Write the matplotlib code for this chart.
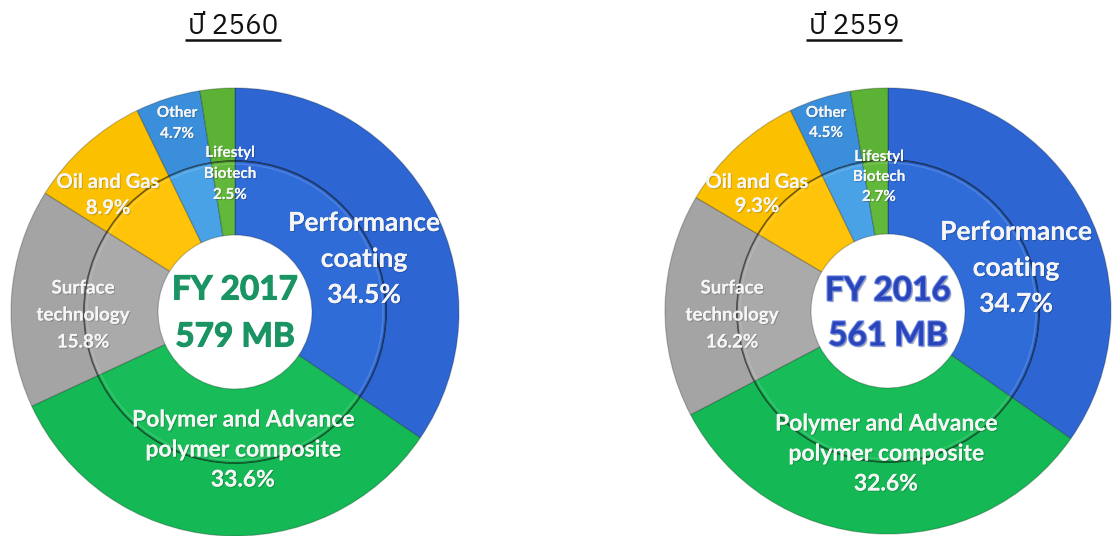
import matplotlib
matplotlib.use("Agg")
import matplotlib.pyplot as plt
from matplotlib import font_manager as fm
from matplotlib.ft2font import FT2Font
from matplotlib.patches import Circle
import matplotlib.patheffects as pe

# ---------------- data ----------------
categories = ["Performance\ncoating",
              "Polymer and Advance\npolymer composite",
              "Surface\ntechnology",
              "Oil and Gas",
              "Other",
              "Lifestyl\nBiotech"]
share_2560 = [34.5, 33.6, 15.8, 8.9, 4.7, 2.5]
share_2559 = [34.7, 32.6, 16.2, 9.3, 4.5, 2.7]
titles = ["ปี 2560", "ปี 2559"]
center_lines = [["FY 2017", "579 MB"], ["FY 2016", "561 MB"]]

# ---------------- styles / layout ----------------
outer_colors = ["#2D66D3", "#14B854", "#A4A4A4", "#FBC100", "#3B8FDA", "#5CB234"]
inner_colors = ["#2F6CD8", "#18BC58", "#AAAAAA", "#FFC40A", "#4AA2E6", "#62B83A"]
center_colors = ["#1A9462", "#2A45B8"]

W, H = 1117, 536
pies = [dict(cx=235, cy=312, R=224), dict(cx=888, cy=311, R=223)]
r_mid, r_hole = 151, 77
title_pos = [(233, 27), (854, 27)]
center_text_y = [(290, 337), (291, 336)]

# label layout: (x, first line y, line step, fontsize), pixel coords from top
label_layout = [
    [(364, 223, 36, 19), (243, 420, 30, 16.5), (83, 288, 27, 13.5),
     (108, 182, 26, 14.5), (177, 113, 21, 11), (230, 153, 21, 11)],
    [(1016, 232, 36, 19), (886, 424, 30, 16.5), (732, 288, 27, 13.5),
     (757, 182, 24, 14.5), (826, 113, 20, 11), (879, 157, 20, 11)],
]

# ---------------- fonts ----------------
def has_glyphs(path, s):
    try:
        f = FT2Font(path)
        return all(f.get_char_index(ord(c)) != 0 for c in s)
    except Exception:
        return False

thai_candidates = []
for fe in fm.fontManager.ttflist:
    if has_glyphs(fe.fname, "ปี"):
        thai_candidates.append(fe.name)
thai_family = None
for nm in thai_candidates:
    if "Sans" in nm or "Loop" in nm:
        thai_family = nm
        break
if thai_family is None and thai_candidates:
    thai_family = thai_candidates[0]
title_family = ([thai_family] if thai_family else []) + ["DejaVu Sans"]

installed = {f.name for f in fm.fontManager.ttflist}
label_family = "Lato" if "Lato" in installed else "DejaVu Sans"

# ---------------- figure ----------------
fig = plt.figure(figsize=(W / 100, H / 100), dpi=100)
ax = fig.add_axes([0, 0, 1, 1])

for i, shares in enumerate([share_2560, share_2559]):
    p = pies[i]
    cx, cy, R = p["cx"], H - p["cy"], p["R"]
    ax.pie(shares, radius=R, center=(cx, cy), startangle=90, counterclock=False,
           colors=outer_colors,
           wedgeprops=dict(width=R - r_mid, edgecolor=(0, 0, 0, 0.22), linewidth=0.9))
    ax.pie(shares, radius=r_mid, center=(cx, cy), startangle=90, counterclock=False,
           colors=inner_colors,
           wedgeprops=dict(width=r_mid - r_hole, edgecolor=(0, 0, 0, 0.22), linewidth=0.9))
    ax.add_patch(Circle((cx, cy), r_mid, fill=False, edgecolor=(0, 0, 0, 0.38), linewidth=1.3))
    ax.add_patch(Circle((cx, cy), r_mid - 3, fill=False, edgecolor=(1, 1, 1, 0.15), linewidth=1.0))

    # labels
    for name, val, (lx, ly, dy, fs) in zip(categories, shares, label_layout[i]):
        lines = name.split("\n") + [f"{val:.1f}%"]
        for k, ln in enumerate(lines):
            ax.text(lx, H - (ly + k * dy), ln, ha="center", va="center",
                    fontsize=fs, fontweight="bold", family=label_family,
                    color="#F5F5F5",
                    path_effects=[pe.withSimplePatchShadow(offset=(0.8, -0.8),
                                                           shadow_rgbFace=(0, 0, 0), alpha=0.18),
                                  pe.Normal()])

    # center text
    for ln, yy in zip(center_lines[i], center_text_y[i]):
        effects = [pe.Stroke(linewidth=0.8, foreground=center_colors[i]), pe.Normal()]
        if i == 1:
            effects = [pe.withSimplePatchShadow(offset=(1.2, -1.2), shadow_rgbFace=(0, 0, 0), alpha=0.3),
                       pe.Stroke(linewidth=1.5, foreground="#6F8BE8"), pe.Normal()]
        ax.text(cx, H - yy, ln, ha="center", va="center", fontsize=24,
                fontweight="bold", family=label_family, color=center_colors[i],
                path_effects=effects)

    # title
    tx, ty = title_pos[i]
    ax.text(tx, H - ty, titles[i], ha="center", va="center", fontsize=20,
            family=title_family, color="#111111")

ax.set_xlim(0, W)
ax.set_ylim(0, H)
ax.set_aspect("auto")
ax.axis("off")

# underline titles, measured from the rendered text
fig.canvas.draw()
renderer = fig.canvas.get_renderer()
for t in list(ax.texts):
    if t.get_text() in titles:
        bb = t.get_window_extent(renderer)
        x0, x1 = bb.x0 - 3, bb.x1 + 3
        ax.plot([x0, x1], [H - 40, H - 40], color="#111111", linewidth=1.8,
                solid_capstyle="butt")

fig.savefig("out.png", dpi=100)
